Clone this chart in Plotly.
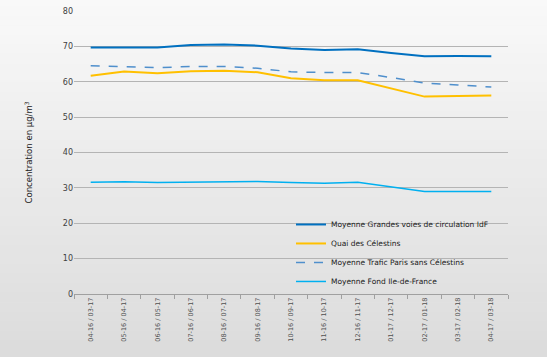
import plotly.graph_objects as go

categories = ["04-16 / 03-17", "05-16 / 04-17", "06-16 / 05-17", "07-16 / 06-17",
              "08-16 / 07-17", "09-16 / 08-17", "10-16 / 09-17", "11-16 / 10-17",
              "12-16 / 11-17", "01-17 / 12-17", "02-17 / 01-18", "03-17 / 02-18",
              "04-17 / 03-18"]
grandes_voies = [69.7, 69.8, 69.7, 70.4, 70.5, 70.2, 69.4, 69.0, 69.2, 68.1, 67.2, 67.3, 67.2]
quai_celestins = [61.7, 62.9, 62.4, 63.0, 63.1, 62.7, 61.0, 60.4, 60.4, 58.2, 55.8, 56.0, 56.1]
trafic_paris = [64.5, 64.3, 64.0, 64.3, 64.3, 63.8, 62.8, 62.6, 62.6, 61.2, 59.6, 59.1, 58.5]
fond_idf = [31.6, 31.7, 31.5, 31.6, 31.7, 31.8, 31.5, 31.3, 31.6, 30.4, 29.0, 29.0, 29.0]
y_ticks = [0, 10, 20, 30, 40, 50, 60, 70, 80]

fig = go.Figure()
fig.add_trace(go.Scatter(x=categories, y=grandes_voies, mode="lines",
                         name="Moyenne Grandes voies de circulation IdF",
                         line=dict(color="#0070C0", width=2)))
fig.add_trace(go.Scatter(x=categories, y=quai_celestins, mode="lines",
                         name="Quai des Célestins",
                         line=dict(color="#FFC000", width=2)))
fig.add_trace(go.Scatter(x=categories, y=trafic_paris, mode="lines",
                         name="Moyenne Trafic Paris sans Célestins",
                         line=dict(color="#4F8FCC", width=1.5, dash="dash")))
fig.add_trace(go.Scatter(x=categories, y=fond_idf, mode="lines",
                         name="Moyenne Fond Ile-de-France",
                         line=dict(color="#00B0F0", width=1.5)))

# background gradient bands
shapes = []
n = 40
for i in range(n):
    t = i / (n - 1)
    c = int(round(249 - t * (249 - 218)))
    shapes.append(dict(type="rect", xref="paper", yref="paper",
                       x0=-0.2, x1=1.2, y0=1.05 - (i + 1) * (1.35 / n) - 0.001,
                       y1=1.05 - i * (1.35 / n) + 0.001,
                       fillcolor=f"rgb({c},{c},{c})", line=dict(width=0), layer="below"))

fig.update_layout(
    width=547, height=357,
    margin=dict(l=74, r=39, t=11, b=63, autoexpand=False),
    paper_bgcolor="#e8e8e8",
    plot_bgcolor="rgba(0,0,0,0)",
    shapes=shapes,
    font=dict(family="DejaVu Sans", size=8, color="#404040"),
    showlegend=True,
    legend=dict(x=0.5, y=0.145, xanchor="left", yanchor="middle",
                bgcolor="rgba(0,0,0,0)", font=dict(size=7.5, color="#202020"),
                tracegroupgap=0, itemwidth=30),
    xaxis=dict(type="category", tickangle=-90, tickfont=dict(size=6.5, color="#505050"),
               showgrid=False, showline=True, linecolor="#a0a0a0", linewidth=1,
               ticks="outside", tickson="boundaries", ticklen=4, tickcolor="#a0a0a0",
               range=[-0.5, 12.5], automargin=False),
    yaxis=dict(range=[0, 80], tickvals=y_ticks, showgrid=True, gridcolor="#b4b4b4",
               gridwidth=1, zeroline=False, tickfont=dict(size=8, color="#404040"),
               automargin=False,
               title=dict(text="Concentration en µg/m<sup>3</sup>", font=dict(size=8.5, color="#202020"),
                          standoff=28)),
)

fig.write_html("out.html", config={"displayModeBar": False},
               post_script="document.body.style.margin='0px';")
